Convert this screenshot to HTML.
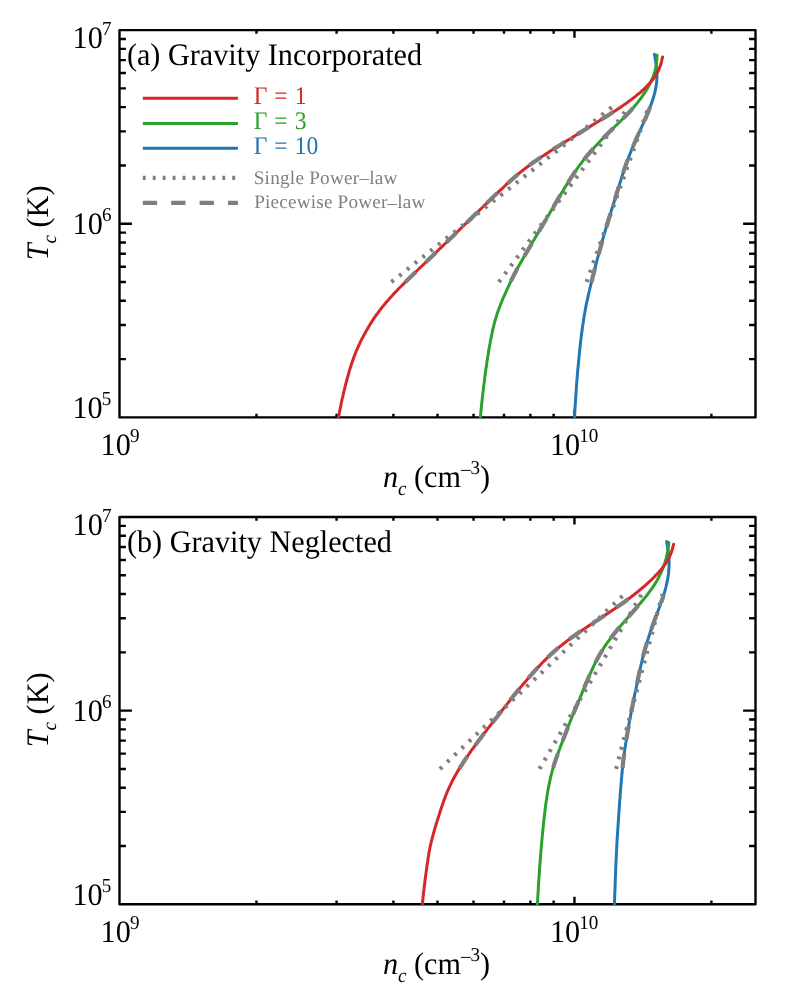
<!DOCTYPE html>
<html><head><meta charset="utf-8"><title>Tc vs nc</title>
<style>html,body{margin:0;padding:0;background:#fff}svg{display:block;will-change:transform}text{text-rendering:geometricPrecision;font-family:"Liberation Serif",serif;fill:#000}.i{font-style:italic}</style></head><body>
<svg width="793" height="994" viewBox="0 0 793 994">
<rect width="793" height="994" fill="#fff"/>
<path d="M256.46,417.4v-3.7M256.46,30.1v3.7M336.57,417.4v-3.7M336.57,30.1v3.7M393.41,417.4v-3.7M393.41,30.1v3.7M437.50,417.4v-3.7M437.50,30.1v3.7M473.52,417.4v-3.7M473.52,30.1v3.7M503.98,417.4v-3.7M503.98,30.1v3.7M530.37,417.4v-3.7M530.37,30.1v3.7M553.64,417.4v-3.7M553.64,30.1v3.7M574.46,417.4v-7.6M574.46,30.1v7.6M711.41,417.4v-3.7M711.41,30.1v3.7M119.5,359.11h6.4M755.5,359.11h-6.4M119.5,325.01h6.4M755.5,325.01h-6.4M119.5,300.81h6.4M755.5,300.81h-6.4M119.5,282.04h6.4M755.5,282.04h-6.4M119.5,266.71h6.4M755.5,266.71h-6.4M119.5,253.75h6.4M755.5,253.75h-6.4M119.5,242.52h6.4M755.5,242.52h-6.4M119.5,232.61h6.4M755.5,232.61h-6.4M119.5,223.75h12.4M755.5,223.75h-12.4M119.5,165.46h6.4M755.5,165.46h-6.4M119.5,131.36h6.4M755.5,131.36h-6.4M119.5,107.16h6.4M755.5,107.16h-6.4M119.5,88.39h6.4M755.5,88.39h-6.4M119.5,73.06h6.4M755.5,73.06h-6.4M119.5,60.10h6.4M755.5,60.10h-6.4M119.5,48.87h6.4M755.5,48.87h-6.4M119.5,38.96h6.4M755.5,38.96h-6.4" stroke="#000" stroke-width="2.4" fill="none"/>
<rect x="119.5" y="30.1" width="636.0" height="387.3" fill="none" stroke="#000" stroke-width="2.4" stroke-linejoin="round"/>
<clipPath id="clipa"><rect x="118.3" y="28.900000000000002" width="638.4" height="389.7"/></clipPath><g clip-path="url(#clipa)">
<path d="M574.5,417.4 L574.6,415.9 L574.7,414.4 L574.8,412.9 L574.9,411.4 L574.9,409.9 L575.0,408.4 L575.1,406.9 L575.2,405.4 L575.3,403.9 L575.4,402.4 L575.5,400.9 L575.6,399.4 L575.7,397.9 L575.8,396.4 L575.9,394.9 L576.0,393.4 L576.1,391.9 L576.2,390.4 L576.3,388.9 L576.4,387.4 L576.5,385.9 L576.6,384.4 L576.7,382.9 L576.8,381.4 L577.0,379.9 L577.1,378.4 L577.2,376.9 L577.3,375.5 L577.5,374.0 L577.6,372.5 L577.7,371.0 L577.8,369.5 L578.0,368.0 L578.1,366.5 L578.3,365.0 L578.4,363.5 L578.5,362.0 L578.7,360.5 L578.8,359.0 L579.0,357.5 L579.1,356.0 L579.3,354.5 L579.4,353.0 L579.6,351.5 L579.7,350.0 L579.9,348.5 L580.0,347.1 L580.2,345.6 L580.4,344.1 L580.5,342.6 L580.7,341.1 L580.9,339.6 L581.1,338.1 L581.2,336.6 L581.4,335.1 L581.6,333.6 L581.8,332.1 L582.0,330.7 L582.2,329.2 L582.4,327.7 L582.6,326.2 L582.8,324.7 L583.1,323.2 L583.3,321.7 L583.5,320.3 L583.7,318.8 L584.0,317.3 L584.2,315.8 L584.5,314.3 L584.8,312.8 L585.0,311.4 L585.3,309.9 L585.6,308.4 L585.8,306.9 L586.1,305.5 L586.4,304.0 L586.7,302.5 L587.0,301.1 L587.4,299.6 L587.7,298.1 L588.0,296.7 L588.3,295.2 L588.6,293.7 L589.0,292.3 L589.3,290.8 L589.7,289.3 L590.0,287.9 L590.4,286.4 L590.7,285.0 L591.1,283.5 L591.5,282.0 L591.8,280.6 L592.2,279.1 L592.6,277.7 L592.9,276.2 L593.3,274.8 L593.7,273.3 L594.1,271.9 L594.4,270.4 L594.8,269.0 L595.2,267.5 L595.6,266.0 L595.9,264.6 L596.3,263.1 L596.7,261.7 L597.1,260.2 L597.4,258.8 L597.8,257.3 L598.2,255.9 L598.6,254.4 L599.0,253.0 L599.4,251.5 L599.8,250.1 L600.2,248.6 L600.6,247.2 L601.0,245.7 L601.4,244.3 L601.8,242.8 L602.2,241.4 L602.6,239.9 L603.0,238.5 L603.4,237.1 L603.8,235.6 L604.2,234.2 L604.7,232.7 L605.1,231.3 L605.5,229.9 L605.9,228.4 L606.4,227.0 L606.8,225.5 L607.2,224.1 L607.7,222.7 L608.1,221.2 L608.6,219.8 L609.0,218.4 L609.4,216.9 L609.9,215.5 L610.3,214.1 L610.8,212.6 L611.2,211.2 L611.6,209.7 L612.1,208.3 L612.5,206.9 L613.0,205.4 L613.4,204.0 L613.9,202.6 L614.3,201.1 L614.8,199.7 L615.2,198.3 L615.6,196.8 L616.1,195.4 L616.5,194.0 L617.0,192.5 L617.4,191.1 L617.9,189.7 L618.3,188.2 L618.7,186.8 L619.2,185.4 L619.6,183.9 L620.1,182.5 L620.5,181.1 L621.0,179.6 L621.4,178.2 L621.9,176.8 L622.3,175.3 L622.8,173.9 L623.3,172.5 L623.7,171.0 L624.2,169.6 L624.7,168.2 L625.2,166.8 L625.7,165.4 L626.2,163.9 L626.7,162.5 L627.2,161.1 L627.7,159.7 L628.2,158.3 L628.8,156.9 L629.3,155.5 L629.9,154.1 L630.4,152.7 L631.0,151.3 L631.5,149.9 L632.1,148.5 L632.7,147.2 L633.3,145.8 L633.9,144.4 L634.5,143.0 L635.1,141.6 L635.7,140.3 L636.3,138.9 L636.9,137.5 L637.5,136.1 L638.1,134.8 L638.7,133.4 L639.3,132.0 L640.0,130.7 L640.6,129.3 L641.2,127.9 L641.8,126.6 L642.4,125.2 L643.1,123.8 L643.7,122.5 L644.3,121.1 L644.9,119.7 L645.5,118.3 L646.1,117.0 L646.7,115.6 L647.2,114.2 L647.8,112.8 L648.4,111.4 L648.9,110.0 L649.5,108.6 L650.0,107.2 L650.6,105.8 L651.1,104.4 L651.6,103.0 L652.1,101.6 L652.6,100.1 L653.0,98.7 L653.5,97.3 L653.9,95.8 L654.3,94.4 L654.7,92.9 L655.0,91.5 L655.4,90.0 L655.7,88.6 L655.9,87.1 L656.2,85.6 L656.4,84.1 L656.6,82.6 L656.7,81.1 L656.8,79.6 L656.9,78.1 L657.0,76.6 L657.0,75.1 L656.9,73.6 L656.9,72.1 L656.8,70.6 L656.6,69.1 L656.5,67.6 L656.3,66.1 L656.1,64.7 L655.9,63.2 L655.7,61.7 L655.5,60.2 L655.2,58.7 L655.0,57.2 L654.7,55.8 L654.4,54.3" fill="none" stroke="#1f77b4" stroke-width="3.0" stroke-linejoin="round" stroke-linecap="round"/>
<path d="M480.3,417.4 L480.5,415.9 L480.6,414.4 L480.8,412.9 L480.9,411.4 L481.1,410.0 L481.2,408.5 L481.4,407.0 L481.5,405.5 L481.7,404.0 L481.8,402.5 L482.0,401.0 L482.2,399.5 L482.3,398.0 L482.5,396.6 L482.7,395.1 L482.8,393.6 L483.0,392.1 L483.2,390.6 L483.4,389.1 L483.5,387.6 L483.7,386.1 L483.9,384.7 L484.1,383.2 L484.3,381.7 L484.5,380.2 L484.6,378.7 L484.8,377.2 L485.0,375.8 L485.2,374.3 L485.4,372.8 L485.6,371.3 L485.8,369.8 L486.0,368.3 L486.3,366.9 L486.5,365.4 L486.7,363.9 L486.9,362.4 L487.1,360.9 L487.4,359.4 L487.6,358.0 L487.8,356.5 L488.0,355.0 L488.3,353.5 L488.5,352.1 L488.8,350.6 L489.0,349.1 L489.3,347.6 L489.5,346.2 L489.8,344.7 L490.1,343.2 L490.3,341.7 L490.6,340.3 L490.9,338.8 L491.2,337.3 L491.5,335.9 L491.8,334.4 L492.1,332.9 L492.4,331.5 L492.7,330.0 L493.1,328.5 L493.4,327.1 L493.8,325.6 L494.1,324.2 L494.5,322.7 L494.9,321.3 L495.3,319.8 L495.7,318.4 L496.2,317.0 L496.6,315.5 L497.1,314.1 L497.5,312.7 L498.0,311.3 L498.5,309.9 L499.0,308.5 L499.6,307.1 L500.1,305.7 L500.6,304.3 L501.2,302.9 L501.8,301.5 L502.3,300.1 L502.9,298.7 L503.5,297.4 L504.1,296.0 L504.7,294.6 L505.3,293.3 L506.0,291.9 L506.6,290.5 L507.2,289.2 L507.8,287.8 L508.4,286.4 L509.1,285.1 L509.7,283.7 L510.3,282.4 L511.0,281.0 L511.6,279.7 L512.3,278.3 L513.0,277.0 L513.6,275.7 L514.3,274.3 L515.0,273.0 L515.7,271.7 L516.4,270.3 L517.1,269.0 L517.8,267.7 L518.5,266.4 L519.3,265.1 L520.0,263.8 L520.7,262.5 L521.5,261.2 L522.2,259.9 L523.0,258.6 L523.7,257.3 L524.5,256.0 L525.2,254.7 L526.0,253.4 L526.7,252.1 L527.5,250.8 L528.3,249.5 L529.0,248.3 L529.8,247.0 L530.6,245.7 L531.3,244.4 L532.1,243.1 L532.8,241.8 L533.6,240.5 L534.4,239.2 L535.1,237.9 L535.9,236.6 L536.6,235.4 L537.4,234.1 L538.2,232.8 L538.9,231.5 L539.7,230.2 L540.4,228.9 L541.2,227.6 L542.0,226.3 L542.7,225.0 L543.5,223.7 L544.2,222.5 L545.0,221.2 L545.8,219.9 L546.5,218.6 L547.3,217.3 L548.0,216.0 L548.8,214.7 L549.6,213.4 L550.3,212.1 L551.1,210.8 L551.8,209.6 L552.6,208.3 L553.4,207.0 L554.1,205.7 L554.9,204.4 L555.6,203.1 L556.4,201.8 L557.1,200.5 L557.9,199.2 L558.7,197.9 L559.4,196.6 L560.2,195.4 L560.9,194.1 L561.7,192.8 L562.5,191.5 L563.3,190.2 L564.0,188.9 L564.8,187.7 L565.6,186.4 L566.4,185.1 L567.2,183.8 L568.0,182.6 L568.8,181.3 L569.6,180.0 L570.4,178.8 L571.2,177.5 L572.0,176.3 L572.8,175.0 L573.7,173.8 L574.5,172.5 L575.3,171.3 L576.2,170.1 L577.1,168.8 L577.9,167.6 L578.8,166.4 L579.7,165.2 L580.6,164.0 L581.5,162.8 L582.4,161.6 L583.3,160.4 L584.2,159.3 L585.2,158.1 L586.1,156.9 L587.1,155.8 L588.0,154.6 L589.0,153.5 L590.0,152.3 L590.9,151.2 L591.9,150.1 L592.9,149.0 L593.9,147.9 L594.9,146.7 L596.0,145.6 L597.0,144.6 L598.0,143.5 L599.0,142.4 L600.1,141.3 L601.1,140.2 L602.2,139.2 L603.2,138.1 L604.3,137.0 L605.3,136.0 L606.4,134.9 L607.5,133.9 L608.5,132.8 L609.6,131.8 L610.7,130.7 L611.7,129.7 L612.8,128.6 L613.9,127.6 L614.9,126.5 L616.0,125.5 L617.1,124.4 L618.2,123.4 L619.2,122.3 L620.3,121.3 L621.4,120.2 L622.4,119.2 L623.5,118.1 L624.5,117.1 L625.6,116.0 L626.6,114.9 L627.7,113.8 L628.7,112.7 L629.7,111.7 L630.7,110.6 L631.7,109.4 L632.7,108.3 L633.7,107.2 L634.7,106.1 L635.6,104.9 L636.6,103.8 L637.5,102.6 L638.5,101.4 L639.4,100.2 L640.3,99.0 L641.2,97.8 L642.0,96.6 L642.9,95.4 L643.7,94.2 L644.6,92.9 L645.4,91.7 L646.2,90.4 L646.9,89.1 L647.7,87.8 L648.4,86.5 L649.2,85.2 L649.9,83.9 L650.5,82.5 L651.2,81.2 L651.8,79.8 L652.4,78.4 L653.0,77.1 L653.5,75.7 L654.0,74.2 L654.4,72.8 L654.9,71.4 L655.2,69.9 L655.6,68.5 L655.9,67.0 L656.1,65.5 L656.4,64.1 L656.5,62.6 L656.7,61.1 L656.8,59.6 L656.9,58.1 L657.0,56.6 L657.0,55.1" fill="none" stroke="#2ca02c" stroke-width="3.0" stroke-linejoin="round" stroke-linecap="round"/>
<path d="M338.4,417.4 L338.7,415.9 L339.0,414.5 L339.3,413.0 L339.6,411.5 L339.9,410.1 L340.2,408.6 L340.5,407.1 L340.8,405.7 L341.1,404.2 L341.4,402.7 L341.7,401.3 L342.0,399.8 L342.3,398.3 L342.7,396.9 L343.0,395.4 L343.3,394.0 L343.7,392.5 L344.0,391.0 L344.4,389.6 L344.7,388.1 L345.1,386.7 L345.5,385.2 L345.8,383.8 L346.2,382.3 L346.6,380.9 L347.0,379.4 L347.4,378.0 L347.8,376.5 L348.2,375.1 L348.6,373.7 L349.0,372.2 L349.4,370.8 L349.8,369.4 L350.3,367.9 L350.7,366.5 L351.2,365.1 L351.6,363.6 L352.1,362.2 L352.6,360.8 L353.1,359.4 L353.6,358.0 L354.1,356.6 L354.6,355.2 L355.2,353.8 L355.7,352.4 L356.3,351.0 L356.9,349.6 L357.5,348.3 L358.1,346.9 L358.7,345.5 L359.4,344.2 L360.0,342.8 L360.7,341.5 L361.3,340.1 L362.0,338.8 L362.7,337.5 L363.4,336.1 L364.1,334.8 L364.8,333.5 L365.5,332.2 L366.3,330.9 L367.0,329.6 L367.8,328.3 L368.5,327.0 L369.3,325.7 L370.1,324.4 L370.9,323.2 L371.7,321.9 L372.5,320.6 L373.3,319.4 L374.1,318.2 L375.0,316.9 L375.8,315.7 L376.7,314.5 L377.6,313.3 L378.5,312.0 L379.4,310.8 L380.3,309.7 L381.2,308.5 L382.1,307.3 L383.1,306.1 L384.0,305.0 L385.0,303.8 L385.9,302.7 L386.9,301.5 L387.9,300.4 L388.9,299.3 L389.9,298.1 L390.9,297.0 L391.9,295.9 L392.9,294.8 L393.9,293.7 L394.9,292.6 L396.0,291.6 L397.0,290.5 L398.0,289.4 L399.1,288.3 L400.1,287.3 L401.2,286.2 L402.3,285.1 L403.3,284.1 L404.4,283.0 L405.4,282.0 L406.5,280.9 L407.6,279.9 L408.6,278.8 L409.7,277.8 L410.8,276.7 L411.9,275.7 L412.9,274.7 L414.0,273.6 L415.1,272.6 L416.2,271.5 L417.2,270.5 L418.3,269.5 L419.4,268.4 L420.5,267.4 L421.6,266.3 L422.6,265.3 L423.7,264.3 L424.8,263.2 L425.9,262.2 L427.0,261.2 L428.0,260.1 L429.1,259.1 L430.2,258.0 L431.3,257.0 L432.4,256.0 L433.4,254.9 L434.5,253.9 L435.6,252.8 L436.7,251.8 L437.7,250.8 L438.8,249.7 L439.9,248.7 L441.0,247.7 L442.1,246.6 L443.1,245.6 L444.2,244.5 L445.3,243.5 L446.4,242.5 L447.4,241.4 L448.5,240.4 L449.6,239.3 L450.7,238.3 L451.8,237.2 L452.8,236.2 L453.9,235.2 L455.0,234.1 L456.0,233.1 L457.1,232.0 L458.2,231.0 L459.3,229.9 L460.3,228.9 L461.4,227.9 L462.5,226.8 L463.6,225.8 L464.6,224.7 L465.7,223.7 L466.8,222.6 L467.9,221.6 L468.9,220.5 L470.0,219.5 L471.1,218.5 L472.1,217.4 L473.2,216.4 L474.3,215.3 L475.4,214.3 L476.4,213.2 L477.5,212.2 L478.6,211.1 L479.7,210.1 L480.7,209.0 L481.8,208.0 L482.9,207.0 L483.9,205.9 L485.0,204.9 L486.1,203.8 L487.2,202.8 L488.2,201.7 L489.3,200.7 L490.4,199.7 L491.5,198.6 L492.6,197.6 L493.6,196.5 L494.7,195.5 L495.8,194.5 L496.9,193.4 L498.0,192.4 L499.0,191.4 L500.1,190.3 L501.2,189.3 L502.3,188.3 L503.4,187.3 L504.5,186.3 L505.6,185.2 L506.7,184.2 L507.8,183.2 L508.9,182.2 L510.0,181.2 L511.2,180.2 L512.3,179.2 L513.4,178.2 L514.5,177.2 L515.7,176.3 L516.8,175.3 L517.9,174.3 L519.1,173.4 L520.2,172.4 L521.4,171.5 L522.6,170.5 L523.7,169.6 L524.9,168.7 L526.1,167.8 L527.3,166.9 L528.5,166.0 L529.7,165.1 L530.9,164.2 L532.1,163.3 L533.3,162.4 L534.6,161.6 L535.8,160.7 L537.0,159.9 L538.3,159.0 L539.5,158.2 L540.8,157.4 L542.0,156.5 L543.3,155.7 L544.5,154.9 L545.8,154.1 L547.0,153.3 L548.3,152.4 L549.5,151.6 L550.8,150.8 L552.1,150.0 L553.3,149.2 L554.6,148.4 L555.9,147.6 L557.1,146.8 L558.4,146.1 L559.7,145.3 L561.0,144.5 L562.2,143.7 L563.5,142.9 L564.8,142.1 L566.0,141.3 L567.3,140.5 L568.6,139.7 L569.9,139.0 L571.1,138.2 L572.4,137.4 L573.7,136.6 L575.0,135.8 L576.2,135.0 L577.5,134.2 L578.8,133.5 L580.1,132.7 L581.3,131.9 L582.6,131.1 L583.9,130.3 L585.2,129.5 L586.4,128.7 L587.7,128.0 L589.0,127.2 L590.3,126.4 L591.5,125.6 L592.8,124.8 L594.1,124.0 L595.4,123.2 L596.6,122.4 L597.9,121.7 L599.2,120.9 L600.4,120.1 L601.7,119.3 L603.0,118.5 L604.3,117.7 L605.5,116.9 L606.8,116.1 L608.1,115.3 L609.3,114.5 L610.6,113.7 L611.9,112.9 L613.1,112.1 L614.4,111.3 L615.6,110.5 L616.9,109.7 L618.1,108.8 L619.4,108.0 L620.6,107.2 L621.9,106.3 L623.1,105.5 L624.3,104.6 L625.6,103.8 L626.8,102.9 L628.0,102.0 L629.2,101.1 L630.4,100.3 L631.6,99.4 L632.8,98.4 L634.0,97.5 L635.2,96.6 L636.3,95.7 L637.5,94.7 L638.6,93.8 L639.8,92.8 L640.9,91.8 L642.0,90.8 L643.1,89.8 L644.2,88.8 L645.3,87.7 L646.4,86.7 L647.4,85.6 L648.4,84.5 L649.4,83.4 L650.4,82.3 L651.4,81.1 L652.3,80.0 L653.3,78.8 L654.1,77.6 L655.0,76.4 L655.8,75.1 L656.6,73.8 L657.3,72.5 L658.0,71.2 L658.7,69.9 L659.3,68.5 L659.8,67.1 L660.3,65.7 L660.8,64.3 L661.2,62.8 L661.6,61.4 L661.9,59.9 L662.2,58.4 L662.6,57.0" fill="none" stroke="#d62728" stroke-width="3.0" stroke-linejoin="round" stroke-linecap="round"/>
<path d="M391.4,282.0 L611.8,107.2" fill="none" stroke="#7f7f7f" stroke-width="4.2" stroke-dasharray="2.9 7.04"/>
<path d="M498.9,282.0 L628.5,107.2" fill="none" stroke="#7f7f7f" stroke-width="4.2" stroke-dasharray="2.9 7.04"/>
<path d="M586.6,282.0 L648.6,107.2" fill="none" stroke="#7f7f7f" stroke-width="4.2" stroke-dasharray="2.9 7.04"/>
<path d="M405.4,282.0 L406.5,280.9 L407.6,279.9 L408.6,278.8 L409.7,277.8 L410.8,276.7 L411.9,275.7 L412.9,274.7 L414.0,273.6 L415.1,272.6 L416.2,271.5 L417.2,270.5 L418.3,269.5 L419.4,268.4 L420.5,267.4 L421.6,266.3 L422.6,265.3 L423.7,264.3 L424.8,263.2 L425.9,262.2 L427.0,261.2 L428.0,260.1 L429.1,259.1 L430.2,258.0 L431.3,257.0 L432.4,256.0 L433.4,254.9 L434.5,253.9 L435.6,252.8 L436.7,251.8 L437.7,250.8 L438.8,249.7 L439.9,248.7 L441.0,247.7 L442.1,246.6 L443.1,245.6 L444.2,244.5 L445.3,243.5 L446.4,242.5 L447.4,241.4 L448.5,240.4 L449.6,239.3 L450.7,238.3 L451.8,237.2 L452.8,236.2 L453.9,235.2 L455.0,234.1 L456.0,233.1 L457.1,232.0 L458.2,231.0 L459.3,229.9 L460.3,228.9 L461.4,227.9 L462.5,226.8 L463.6,225.8 L464.6,224.7 L465.7,223.7 L466.8,222.6 L467.9,221.6 L468.9,220.5 L470.0,219.5 L471.1,218.5 L472.1,217.4 L473.2,216.4 L474.3,215.3 L475.4,214.3 L476.4,213.2 L477.5,212.2 L478.6,211.1 L479.7,210.1 L480.7,209.0 L481.8,208.0 L482.9,207.0 L483.9,205.9 L485.0,204.9 L486.1,203.8 L487.2,202.8 L488.2,201.7 L489.3,200.7 L490.4,199.7 L491.5,198.6 L492.6,197.6 L493.6,196.5 L494.7,195.5 L495.8,194.5 L496.9,193.4 L498.0,192.4 L499.0,191.4 L500.1,190.3 L501.2,189.3 L502.3,188.3 L503.4,187.3 L504.5,186.3 L505.6,185.2 L506.7,184.2 L507.8,183.2 L508.9,182.2 L510.0,181.2 L511.2,180.2 L512.3,179.2 L513.4,178.2 L514.5,177.2 L515.7,176.3 L516.8,175.3 L517.9,174.3 L519.1,173.4 L520.2,172.4 L521.4,171.5 L522.6,170.5 L523.7,169.6 L524.9,168.7 L526.1,167.8 L527.3,166.9 L528.5,166.0 L529.7,165.1 L530.9,164.2 L532.1,163.3 L533.3,162.4 L534.6,161.6 L535.8,160.7 L537.0,159.9 L538.3,159.0 L539.5,158.2 L540.8,157.4 L542.0,156.5 L543.3,155.7 L544.5,154.9 L545.8,154.1 L547.0,153.3 L548.3,152.4 L549.5,151.6 L550.8,150.8 L552.1,150.0 L553.3,149.2 L554.6,148.4 L555.9,147.6 L557.1,146.8 L558.4,146.1 L559.7,145.3 L561.0,144.5 L562.2,143.7 L563.5,142.9 L564.8,142.1 L566.0,141.3 L567.3,140.5 L568.6,139.7 L569.9,139.0 L571.1,138.2 L572.4,137.4 L573.7,136.6 L575.0,135.8 L576.2,135.0 L577.5,134.2 L578.8,133.5 L580.1,132.7 L581.3,131.9 L582.6,131.1 L583.9,130.3 L585.2,129.5 L586.4,128.7 L587.7,128.0 L589.0,127.2 L590.3,126.4 L591.5,125.6 L592.8,124.8 L594.1,124.0 L595.4,123.2 L596.6,122.4 L597.9,121.7 L599.2,120.9 L600.4,120.1 L601.7,119.3 L603.0,118.5 L604.3,117.7 L605.5,116.9 L606.8,116.1 L608.1,115.3 L609.3,114.5 L610.6,113.7 L611.9,112.9 L613.1,112.1 L614.4,111.3 L615.6,110.5 L616.9,109.7 L618.1,108.8 L619.4,108.0 L620.6,107.2" fill="none" stroke="#7f7f7f" stroke-width="4.2" stroke-dasharray="14.3 14.1" stroke-linejoin="round"/>
<path d="M511.0,281.0 L511.6,279.7 L512.3,278.3 L513.0,277.0 L513.6,275.7 L514.3,274.3 L515.0,273.0 L515.7,271.7 L516.4,270.3 L517.1,269.0 L517.8,267.7 L518.5,266.4 L519.3,265.1 L520.0,263.8 L520.7,262.5 L521.5,261.2 L522.2,259.9 L523.0,258.6 L523.7,257.3 L524.5,256.0 L525.2,254.7 L526.0,253.4 L526.7,252.1 L527.5,250.8 L528.3,249.5 L529.0,248.3 L529.8,247.0 L530.6,245.7 L531.3,244.4 L532.1,243.1 L532.8,241.8 L533.6,240.5 L534.4,239.2 L535.1,237.9 L535.9,236.6 L536.6,235.4 L537.4,234.1 L538.2,232.8 L538.9,231.5 L539.7,230.2 L540.4,228.9 L541.2,227.6 L542.0,226.3 L542.7,225.0 L543.5,223.7 L544.2,222.5 L545.0,221.2 L545.8,219.9 L546.5,218.6 L547.3,217.3 L548.0,216.0 L548.8,214.7 L549.6,213.4 L550.3,212.1 L551.1,210.8 L551.8,209.6 L552.6,208.3 L553.4,207.0 L554.1,205.7 L554.9,204.4 L555.6,203.1 L556.4,201.8 L557.1,200.5 L557.9,199.2 L558.7,197.9 L559.4,196.6 L560.2,195.4 L560.9,194.1 L561.7,192.8 L562.5,191.5 L563.3,190.2 L564.0,188.9 L564.8,187.7 L565.6,186.4 L566.4,185.1 L567.2,183.8 L568.0,182.6 L568.8,181.3 L569.6,180.0 L570.4,178.8 L571.2,177.5 L572.0,176.3 L572.8,175.0 L573.7,173.8 L574.5,172.5 L575.3,171.3 L576.2,170.1 L577.1,168.8 L577.9,167.6 L578.8,166.4 L579.7,165.2 L580.6,164.0 L581.5,162.8 L582.4,161.6 L583.3,160.4 L584.2,159.3 L585.2,158.1 L586.1,156.9 L587.1,155.8 L588.0,154.6 L589.0,153.5 L590.0,152.3 L590.9,151.2 L591.9,150.1 L592.9,149.0 L593.9,147.9 L594.9,146.7 L596.0,145.6 L597.0,144.6 L598.0,143.5 L599.0,142.4 L600.1,141.3 L601.1,140.2 L602.2,139.2 L603.2,138.1 L604.3,137.0 L605.3,136.0 L606.4,134.9 L607.5,133.9 L608.5,132.8 L609.6,131.8 L610.7,130.7 L611.7,129.7 L612.8,128.6 L613.9,127.6 L614.9,126.5 L616.0,125.5 L617.1,124.4 L618.2,123.4 L619.2,122.3 L620.3,121.3 L621.4,120.2 L622.4,119.2 L623.5,118.1 L624.5,117.1 L625.6,116.0 L626.6,114.9 L627.7,113.8 L628.7,112.7 L629.7,111.7 L630.7,110.6 L631.7,109.4 L632.7,108.3 L633.7,107.2" fill="none" stroke="#7f7f7f" stroke-width="4.2" stroke-dasharray="14.3 14.1" stroke-linejoin="round"/>
<path d="M591.5,282.0 L591.8,280.6 L592.2,279.1 L592.6,277.7 L592.9,276.2 L593.3,274.8 L593.7,273.3 L594.1,271.9 L594.4,270.4 L594.8,269.0 L595.2,267.5 L595.6,266.0 L595.9,264.6 L596.3,263.1 L596.7,261.7 L597.1,260.2 L597.4,258.8 L597.8,257.3 L598.2,255.9 L598.6,254.4 L599.0,253.0 L599.4,251.5 L599.8,250.1 L600.2,248.6 L600.6,247.2 L601.0,245.7 L601.4,244.3 L601.8,242.8 L602.2,241.4 L602.6,239.9 L603.0,238.5 L603.4,237.1 L603.8,235.6 L604.2,234.2 L604.7,232.7 L605.1,231.3 L605.5,229.9 L605.9,228.4 L606.4,227.0 L606.8,225.5 L607.2,224.1 L607.7,222.7 L608.1,221.2 L608.6,219.8 L609.0,218.4 L609.4,216.9 L609.9,215.5 L610.3,214.1 L610.8,212.6 L611.2,211.2 L611.6,209.7 L612.1,208.3 L612.5,206.9 L613.0,205.4 L613.4,204.0 L613.9,202.6 L614.3,201.1 L614.8,199.7 L615.2,198.3 L615.6,196.8 L616.1,195.4 L616.5,194.0 L617.0,192.5 L617.4,191.1 L617.9,189.7 L618.3,188.2 L618.7,186.8 L619.2,185.4 L619.6,183.9 L620.1,182.5 L620.5,181.1 L621.0,179.6 L621.4,178.2 L621.9,176.8 L622.3,175.3 L622.8,173.9 L623.3,172.5 L623.7,171.0 L624.2,169.6 L624.7,168.2 L625.2,166.8 L625.7,165.4 L626.2,163.9 L626.7,162.5 L627.2,161.1 L627.7,159.7 L628.2,158.3 L628.8,156.9 L629.3,155.5 L629.9,154.1 L630.4,152.7 L631.0,151.3 L631.5,149.9 L632.1,148.5 L632.7,147.2 L633.3,145.8 L633.9,144.4 L634.5,143.0 L635.1,141.6 L635.7,140.3 L636.3,138.9 L636.9,137.5 L637.5,136.1 L638.1,134.8 L638.7,133.4 L639.3,132.0 L640.0,130.7 L640.6,129.3 L641.2,127.9 L641.8,126.6 L642.4,125.2 L643.1,123.8 L643.7,122.5 L644.3,121.1 L644.9,119.7 L645.5,118.3 L646.1,117.0 L646.7,115.6 L647.2,114.2 L647.8,112.8 L648.4,111.4 L648.9,110.0 L649.5,108.6 L650.0,107.2" fill="none" stroke="#7f7f7f" stroke-width="4.2" stroke-dasharray="14.3 14.1" stroke-linejoin="round"/>
</g>
<text transform="translate(72.60,48.00) scale(0.965,1)" font-size="31.3">10<tspan dx="-0.9" dy="-13.2" font-size="19.8">7</tspan></text>
<text transform="translate(72.60,234.40) scale(0.965,1)" font-size="31.3">10<tspan dx="-0.9" dy="-13.2" font-size="19.8">6</tspan></text>
<text transform="translate(72.50,418.00) scale(0.965,1)" font-size="31.3">10<tspan dx="-0.9" dy="-13.2" font-size="19.8">5</tspan></text>
<text transform="translate(100.60,455.40) scale(0.965,1)" font-size="31.3">10<tspan dx="-0.9" dy="-13.2" font-size="19.8">9</tspan></text>
<text transform="translate(550.00,455.40) scale(0.965,1)" font-size="31.3">10<tspan dx="-0.9" dy="-13.2" font-size="19.8">10</tspan></text>
<text transform="translate(382.90,487.30) scale(0.965,1)" font-size="31.3"><tspan class="i">n</tspan><tspan class="i" dy="7.3" font-size="19.8">c</tspan><tspan dy="-7.3"> (cm</tspan><tspan dy="-12.299999999999999" font-size="19.8">–</tspan><tspan dy="-0.9" font-size="19.8">3</tspan><tspan dy="13.2">)</tspan></text>
<text transform="translate(48.3,260.30) rotate(-90) scale(0.965,1)" font-size="31.3"><tspan class="i">T</tspan><tspan class="i" dy="7.3" font-size="19.8">c</tspan><tspan dy="-7.3"> (K)</tspan></text>
<text transform="translate(126.90,64.90) scale(0.965,1)" font-size="31.3">(a) Gravity Incorporated</text>
<path d="M256.46,904.3v-3.7M256.46,517.0v3.7M336.57,904.3v-3.7M336.57,517.0v3.7M393.41,904.3v-3.7M393.41,517.0v3.7M437.50,904.3v-3.7M437.50,517.0v3.7M473.52,904.3v-3.7M473.52,517.0v3.7M503.98,904.3v-3.7M503.98,517.0v3.7M530.37,904.3v-3.7M530.37,517.0v3.7M553.64,904.3v-3.7M553.64,517.0v3.7M574.46,904.3v-7.6M574.46,517.0v7.6M711.41,904.3v-3.7M711.41,517.0v3.7M119.5,846.01h6.4M755.5,846.01h-6.4M119.5,811.91h6.4M755.5,811.91h-6.4M119.5,787.71h6.4M755.5,787.71h-6.4M119.5,768.94h6.4M755.5,768.94h-6.4M119.5,753.61h6.4M755.5,753.61h-6.4M119.5,740.65h6.4M755.5,740.65h-6.4M119.5,729.42h6.4M755.5,729.42h-6.4M119.5,719.51h6.4M755.5,719.51h-6.4M119.5,710.65h12.4M755.5,710.65h-12.4M119.5,652.36h6.4M755.5,652.36h-6.4M119.5,618.26h6.4M755.5,618.26h-6.4M119.5,594.06h6.4M755.5,594.06h-6.4M119.5,575.29h6.4M755.5,575.29h-6.4M119.5,559.96h6.4M755.5,559.96h-6.4M119.5,547.00h6.4M755.5,547.00h-6.4M119.5,535.77h6.4M755.5,535.77h-6.4M119.5,525.86h6.4M755.5,525.86h-6.4" stroke="#000" stroke-width="2.4" fill="none"/>
<rect x="119.5" y="517.0" width="636.0" height="387.3" fill="none" stroke="#000" stroke-width="2.4" stroke-linejoin="round"/>
<clipPath id="clipb"><rect x="118.3" y="515.8" width="638.4" height="389.7"/></clipPath><g clip-path="url(#clipb)">
<path d="M614.4,904.3 L614.5,902.8 L614.5,901.3 L614.6,899.8 L614.6,898.3 L614.7,896.8 L614.7,895.3 L614.8,893.8 L614.8,892.3 L614.9,890.8 L615.0,889.3 L615.0,887.8 L615.1,886.3 L615.1,884.8 L615.2,883.3 L615.2,881.8 L615.3,880.3 L615.3,878.8 L615.4,877.3 L615.4,875.8 L615.5,874.3 L615.6,872.8 L615.6,871.3 L615.7,869.8 L615.7,868.3 L615.8,866.8 L615.9,865.3 L615.9,863.8 L616.0,862.3 L616.1,860.8 L616.1,859.3 L616.2,857.8 L616.3,856.3 L616.3,854.8 L616.4,853.3 L616.5,851.8 L616.6,850.3 L616.6,848.8 L616.7,847.3 L616.8,845.8 L616.9,844.3 L617.0,842.8 L617.0,841.3 L617.1,839.8 L617.2,838.4 L617.3,836.9 L617.4,835.4 L617.5,833.9 L617.6,832.4 L617.7,830.9 L617.8,829.4 L617.9,827.9 L618.0,826.4 L618.1,824.9 L618.2,823.4 L618.3,821.9 L618.4,820.4 L618.5,818.9 L618.6,817.4 L618.7,815.9 L618.8,814.4 L618.9,812.9 L619.0,811.4 L619.1,809.9 L619.2,808.4 L619.3,806.9 L619.4,805.4 L619.5,803.9 L619.6,802.4 L619.7,800.9 L619.8,799.4 L620.0,797.9 L620.1,796.4 L620.2,794.9 L620.3,793.5 L620.4,792.0 L620.5,790.5 L620.7,789.0 L620.8,787.5 L620.9,786.0 L621.0,784.5 L621.2,783.0 L621.3,781.5 L621.4,780.0 L621.5,778.5 L621.7,777.0 L621.8,775.5 L621.9,774.0 L622.1,772.5 L622.2,771.0 L622.4,769.5 L622.5,768.0 L622.7,766.6 L622.8,765.1 L623.0,763.6 L623.2,762.1 L623.3,760.6 L623.5,759.1 L623.7,757.6 L623.9,756.1 L624.1,754.6 L624.3,753.1 L624.5,751.7 L624.7,750.2 L624.9,748.7 L625.1,747.2 L625.4,745.7 L625.6,744.2 L625.8,742.8 L626.1,741.3 L626.3,739.8 L626.5,738.3 L626.8,736.8 L627.0,735.4 L627.3,733.9 L627.5,732.4 L627.8,730.9 L628.0,729.4 L628.3,728.0 L628.6,726.5 L628.8,725.0 L629.1,723.5 L629.4,722.1 L629.6,720.6 L629.9,719.1 L630.2,717.6 L630.5,716.2 L630.7,714.7 L631.0,713.2 L631.3,711.7 L631.6,710.3 L631.9,708.8 L632.2,707.3 L632.5,705.8 L632.8,704.4 L633.1,702.9 L633.4,701.4 L633.6,700.0 L633.9,698.5 L634.2,697.0 L634.5,695.6 L634.8,694.1 L635.1,692.6 L635.5,691.1 L635.8,689.7 L636.1,688.2 L636.4,686.7 L636.7,685.3 L637.0,683.8 L637.3,682.3 L637.6,680.9 L637.9,679.4 L638.2,677.9 L638.5,676.5 L638.8,675.0 L639.1,673.5 L639.4,672.1 L639.8,670.6 L640.1,669.1 L640.4,667.7 L640.7,666.2 L641.1,664.7 L641.4,663.3 L641.7,661.8 L642.1,660.3 L642.4,658.9 L642.8,657.4 L643.2,656.0 L643.5,654.5 L643.9,653.1 L644.3,651.6 L644.7,650.2 L645.1,648.7 L645.5,647.3 L646.0,645.9 L646.4,644.4 L646.8,643.0 L647.3,641.5 L647.7,640.1 L648.2,638.7 L648.6,637.3 L649.1,635.8 L649.6,634.4 L650.0,633.0 L650.5,631.6 L651.0,630.1 L651.5,628.7 L652.0,627.3 L652.5,625.9 L653.0,624.5 L653.5,623.1 L654.0,621.7 L654.5,620.3 L655.1,618.8 L655.6,617.4 L656.1,616.0 L656.6,614.6 L657.2,613.2 L657.7,611.8 L658.2,610.4 L658.7,609.0 L659.3,607.6 L659.8,606.2 L660.3,604.8 L660.8,603.4 L661.3,602.0 L661.8,600.5 L662.3,599.1 L662.8,597.7 L663.2,596.3 L663.7,594.8 L664.1,593.4 L664.6,592.0 L665.0,590.5 L665.4,589.1 L665.8,587.6 L666.1,586.2 L666.5,584.7 L666.8,583.3 L667.1,581.8 L667.4,580.3 L667.7,578.8 L667.9,577.4 L668.2,575.9 L668.4,574.4 L668.6,572.9 L668.7,571.4 L668.8,569.9 L668.9,568.4 L669.0,566.9 L669.1,565.4 L669.1,563.9 L669.1,562.4 L669.0,560.9 L669.0,559.4 L668.9,557.9 L668.8,556.4 L668.6,554.9 L668.5,553.5 L668.3,552.0 L668.1,550.5 L667.9,549.0 L667.6,547.5 L667.4,546.0 L667.2,544.5 L666.9,543.1 L666.7,541.6" fill="none" stroke="#1f77b4" stroke-width="3.0" stroke-linejoin="round" stroke-linecap="round"/>
<path d="M537.4,904.3 L537.5,902.8 L537.6,901.3 L537.7,899.8 L537.7,898.3 L537.8,896.8 L537.9,895.3 L538.0,893.8 L538.1,892.3 L538.2,890.8 L538.3,889.3 L538.3,887.8 L538.4,886.3 L538.5,884.8 L538.6,883.4 L538.7,881.9 L538.8,880.4 L538.9,878.9 L539.0,877.4 L539.1,875.9 L539.2,874.4 L539.3,872.9 L539.4,871.4 L539.5,869.9 L539.6,868.4 L539.7,866.9 L539.8,865.4 L539.9,863.9 L540.1,862.4 L540.2,860.9 L540.3,859.4 L540.4,857.9 L540.5,856.4 L540.6,854.9 L540.8,853.4 L540.9,852.0 L541.0,850.5 L541.1,849.0 L541.3,847.5 L541.4,846.0 L541.5,844.5 L541.7,843.0 L541.8,841.5 L541.9,840.0 L542.1,838.5 L542.2,837.0 L542.3,835.5 L542.5,834.0 L542.6,832.5 L542.8,831.1 L542.9,829.6 L543.1,828.1 L543.2,826.6 L543.4,825.1 L543.5,823.6 L543.7,822.1 L543.9,820.6 L544.0,819.1 L544.2,817.6 L544.3,816.1 L544.5,814.7 L544.7,813.2 L544.9,811.7 L545.0,810.2 L545.2,808.7 L545.4,807.2 L545.6,805.7 L545.8,804.2 L546.0,802.8 L546.2,801.3 L546.5,799.8 L546.7,798.3 L546.9,796.8 L547.1,795.4 L547.4,793.9 L547.6,792.4 L547.9,790.9 L548.1,789.4 L548.4,788.0 L548.7,786.5 L549.0,785.0 L549.3,783.6 L549.6,782.1 L549.9,780.6 L550.2,779.2 L550.5,777.7 L550.9,776.2 L551.2,774.8 L551.6,773.3 L552.0,771.9 L552.4,770.4 L552.8,769.0 L553.2,767.5 L553.7,766.1 L554.1,764.7 L554.5,763.3 L555.0,761.8 L555.5,760.4 L556.0,759.0 L556.5,757.6 L557.0,756.2 L557.5,754.8 L558.0,753.3 L558.5,751.9 L559.0,750.5 L559.6,749.1 L560.1,747.7 L560.6,746.3 L561.2,744.9 L561.7,743.5 L562.2,742.1 L562.8,740.7 L563.3,739.3 L563.8,737.9 L564.4,736.5 L564.9,735.1 L565.5,733.7 L566.0,732.3 L566.5,730.9 L567.1,729.5 L567.6,728.1 L568.1,726.7 L568.7,725.3 L569.2,723.9 L569.8,722.5 L570.3,721.1 L570.9,719.8 L571.4,718.4 L572.0,717.0 L572.6,715.6 L573.1,714.2 L573.7,712.8 L574.3,711.4 L574.8,710.0 L575.4,708.7 L576.0,707.3 L576.6,705.9 L577.2,704.5 L577.7,703.1 L578.3,701.8 L578.9,700.4 L579.5,699.0 L580.1,697.6 L580.7,696.2 L581.3,694.9 L581.8,693.5 L582.4,692.1 L583.0,690.7 L583.6,689.3 L584.2,687.9 L584.7,686.6 L585.3,685.2 L585.9,683.8 L586.5,682.4 L587.1,681.0 L587.6,679.6 L588.2,678.3 L588.8,676.9 L589.4,675.5 L590.0,674.1 L590.6,672.8 L591.2,671.4 L591.8,670.0 L592.5,668.7 L593.1,667.3 L593.8,666.0 L594.4,664.6 L595.1,663.3 L595.7,661.9 L596.4,660.6 L597.1,659.3 L597.8,658.0 L598.6,656.6 L599.3,655.3 L600.0,654.0 L600.8,652.7 L601.6,651.5 L602.4,650.2 L603.2,648.9 L604.0,647.6 L604.8,646.4 L605.6,645.2 L606.5,643.9 L607.3,642.7 L608.2,641.5 L609.1,640.3 L610.0,639.0 L610.9,637.8 L611.8,636.7 L612.7,635.5 L613.6,634.3 L614.6,633.1 L615.5,632.0 L616.5,630.8 L617.4,629.6 L618.4,628.5 L619.3,627.4 L620.3,626.2 L621.3,625.1 L622.3,623.9 L623.3,622.8 L624.2,621.7 L625.2,620.6 L626.2,619.4 L627.2,618.3 L628.2,617.2 L629.2,616.0 L630.2,614.9 L631.2,613.8 L632.2,612.7 L633.1,611.5 L634.1,610.4 L635.1,609.3 L636.1,608.2 L637.1,607.0 L638.1,605.9 L639.0,604.8 L640.0,603.6 L641.0,602.5 L641.9,601.3 L642.9,600.2 L643.9,599.0 L644.8,597.9 L645.7,596.7 L646.7,595.5 L647.6,594.3 L648.5,593.1 L649.4,591.9 L650.3,590.7 L651.2,589.5 L652.0,588.3 L652.9,587.1 L653.7,585.8 L654.5,584.6 L655.3,583.3 L656.1,582.0 L656.9,580.7 L657.6,579.4 L658.3,578.1 L659.0,576.8 L659.7,575.4 L660.4,574.1 L661.0,572.7 L661.6,571.4 L662.2,570.0 L662.8,568.6 L663.3,567.2 L663.8,565.8 L664.3,564.4 L664.8,562.9 L665.2,561.5 L665.7,560.1 L666.1,558.6 L666.4,557.2 L666.8,555.7 L667.1,554.3 L667.4,552.8 L667.7,551.3 L667.9,549.8 L668.1,548.4 L668.3,546.9 L668.5,545.4 L668.7,543.9 L668.8,542.4" fill="none" stroke="#2ca02c" stroke-width="3.0" stroke-linejoin="round" stroke-linecap="round"/>
<path d="M422.3,904.3 L422.5,902.8 L422.6,901.3 L422.8,899.8 L423.0,898.3 L423.1,896.9 L423.3,895.4 L423.4,893.9 L423.6,892.4 L423.8,890.9 L424.0,889.4 L424.1,887.9 L424.3,886.5 L424.5,885.0 L424.7,883.5 L424.9,882.0 L425.0,880.5 L425.2,879.0 L425.4,877.5 L425.6,876.1 L425.8,874.6 L426.0,873.1 L426.2,871.6 L426.4,870.1 L426.6,868.6 L426.8,867.2 L427.0,865.7 L427.2,864.2 L427.4,862.7 L427.7,861.2 L427.9,859.8 L428.1,858.3 L428.3,856.8 L428.6,855.3 L428.8,853.8 L429.1,852.4 L429.4,850.9 L429.6,849.4 L429.9,848.0 L430.2,846.5 L430.5,845.0 L430.9,843.6 L431.2,842.1 L431.6,840.7 L431.9,839.2 L432.3,837.8 L432.7,836.3 L433.1,834.9 L433.5,833.4 L433.9,832.0 L434.3,830.5 L434.7,829.1 L435.1,827.7 L435.6,826.2 L436.0,824.8 L436.4,823.4 L436.9,821.9 L437.3,820.5 L437.8,819.1 L438.2,817.7 L438.7,816.2 L439.1,814.8 L439.6,813.4 L440.0,812.0 L440.5,810.5 L441.0,809.1 L441.4,807.7 L441.9,806.3 L442.4,804.9 L442.9,803.4 L443.4,802.0 L443.9,800.6 L444.4,799.2 L444.9,797.8 L445.4,796.4 L446.0,795.0 L446.6,793.6 L447.1,792.2 L447.7,790.9 L448.3,789.5 L448.9,788.1 L449.5,786.8 L450.2,785.4 L450.8,784.1 L451.5,782.7 L452.1,781.4 L452.8,780.0 L453.5,778.7 L454.2,777.4 L455.0,776.1 L455.7,774.8 L456.4,773.5 L457.2,772.2 L457.9,770.9 L458.7,769.6 L459.5,768.4 L460.3,767.1 L461.1,765.8 L461.9,764.6 L462.7,763.3 L463.5,762.0 L464.4,760.8 L465.2,759.5 L466.0,758.3 L466.9,757.1 L467.7,755.8 L468.6,754.6 L469.4,753.4 L470.3,752.2 L471.1,750.9 L472.0,749.7 L472.9,748.5 L473.8,747.3 L474.6,746.1 L475.5,744.9 L476.4,743.7 L477.3,742.5 L478.2,741.3 L479.1,740.1 L480.0,738.9 L480.9,737.7 L481.8,736.5 L482.7,735.3 L483.6,734.1 L484.5,732.9 L485.5,731.7 L486.4,730.6 L487.3,729.4 L488.2,728.2 L489.1,727.0 L490.0,725.8 L490.9,724.6 L491.9,723.4 L492.8,722.3 L493.7,721.1 L494.6,719.9 L495.5,718.7 L496.5,717.6 L497.4,716.4 L498.3,715.2 L499.2,714.0 L500.2,712.8 L501.1,711.7 L502.0,710.5 L502.9,709.3 L503.9,708.1 L504.8,707.0 L505.7,705.8 L506.6,704.6 L507.6,703.4 L508.5,702.3 L509.4,701.1 L510.3,699.9 L511.3,698.7 L512.2,697.6 L513.1,696.4 L514.1,695.2 L515.0,694.1 L516.0,692.9 L516.9,691.7 L517.8,690.6 L518.8,689.4 L519.7,688.3 L520.7,687.1 L521.7,686.0 L522.6,684.8 L523.6,683.7 L524.6,682.5 L525.5,681.4 L526.5,680.3 L527.5,679.1 L528.5,678.0 L529.4,676.9 L530.4,675.7 L531.4,674.6 L532.4,673.5 L533.4,672.4 L534.4,671.3 L535.4,670.2 L536.4,669.1 L537.4,668.0 L538.5,666.9 L539.5,665.8 L540.5,664.7 L541.5,663.6 L542.6,662.5 L543.6,661.4 L544.7,660.4 L545.7,659.3 L546.8,658.3 L547.9,657.2 L548.9,656.2 L550.0,655.2 L551.1,654.1 L552.2,653.1 L553.4,652.1 L554.5,651.1 L555.6,650.2 L556.7,649.2 L557.9,648.2 L559.0,647.3 L560.2,646.3 L561.4,645.4 L562.5,644.5 L563.7,643.5 L564.9,642.6 L566.1,641.7 L567.3,640.8 L568.5,639.9 L569.7,639.0 L570.9,638.1 L572.1,637.3 L573.3,636.4 L574.5,635.5 L575.8,634.7 L577.0,633.8 L578.2,632.9 L579.4,632.1 L580.7,631.2 L581.9,630.4 L583.2,629.6 L584.4,628.7 L585.6,627.9 L586.9,627.1 L588.1,626.2 L589.4,625.4 L590.6,624.6 L591.9,623.8 L593.1,622.9 L594.4,622.1 L595.6,621.3 L596.9,620.5 L598.2,619.7 L599.4,618.9 L600.7,618.0 L601.9,617.2 L603.2,616.4 L604.4,615.6 L605.7,614.8 L606.9,613.9 L608.2,613.1 L609.4,612.3 L610.7,611.4 L611.9,610.6 L613.1,609.8 L614.4,608.9 L615.6,608.1 L616.8,607.2 L618.1,606.4 L619.3,605.5 L620.5,604.7 L621.8,603.8 L623.0,603.0 L624.2,602.1 L625.4,601.2 L626.6,600.3 L627.8,599.4 L629.0,598.5 L630.2,597.6 L631.4,596.7 L632.6,595.8 L633.8,594.9 L634.9,594.0 L636.1,593.0 L637.3,592.1 L638.4,591.1 L639.6,590.2 L640.7,589.2 L641.9,588.3 L643.0,587.3 L644.1,586.3 L645.3,585.3 L646.4,584.3 L647.5,583.3 L648.6,582.3 L649.7,581.3 L650.8,580.3 L651.9,579.3 L653.0,578.2 L654.0,577.2 L655.1,576.1 L656.1,575.0 L657.2,573.9 L658.2,572.8 L659.2,571.7 L660.2,570.6 L661.1,569.5 L662.1,568.3 L663.0,567.1 L663.9,566.0 L664.8,564.7 L665.7,563.5 L666.5,562.3 L667.3,561.0 L668.0,559.7 L668.7,558.4 L669.4,557.0 L670.0,555.7 L670.6,554.3 L671.1,552.9 L671.6,551.5 L672.1,550.1 L672.5,548.6 L672.9,547.2 L673.2,545.7 L673.6,544.3" fill="none" stroke="#d62728" stroke-width="3.0" stroke-linejoin="round" stroke-linecap="round"/>
<path d="M440.0,768.9 L624.4,594.1" fill="none" stroke="#7f7f7f" stroke-width="4.2" stroke-dasharray="2.9 7.04"/>
<path d="M539.5,768.9 L641.7,594.1" fill="none" stroke="#7f7f7f" stroke-width="4.2" stroke-dasharray="2.9 7.04"/>
<path d="M616.1,768.9 L662.4,594.1" fill="none" stroke="#7f7f7f" stroke-width="4.2" stroke-dasharray="2.9 7.04"/>
<path d="M459.5,768.4 L460.3,767.1 L461.1,765.8 L461.9,764.6 L462.7,763.3 L463.5,762.0 L464.4,760.8 L465.2,759.5 L466.0,758.3 L466.9,757.1 L467.7,755.8 L468.6,754.6 L469.4,753.4 L470.3,752.2 L471.1,750.9 L472.0,749.7 L472.9,748.5 L473.8,747.3 L474.6,746.1 L475.5,744.9 L476.4,743.7 L477.3,742.5 L478.2,741.3 L479.1,740.1 L480.0,738.9 L480.9,737.7 L481.8,736.5 L482.7,735.3 L483.6,734.1 L484.5,732.9 L485.5,731.7 L486.4,730.6 L487.3,729.4 L488.2,728.2 L489.1,727.0 L490.0,725.8 L490.9,724.6 L491.9,723.4 L492.8,722.3 L493.7,721.1 L494.6,719.9 L495.5,718.7 L496.5,717.6 L497.4,716.4 L498.3,715.2 L499.2,714.0 L500.2,712.8 L501.1,711.7 L502.0,710.5 L502.9,709.3 L503.9,708.1 L504.8,707.0 L505.7,705.8 L506.6,704.6 L507.6,703.4 L508.5,702.3 L509.4,701.1 L510.3,699.9 L511.3,698.7 L512.2,697.6 L513.1,696.4 L514.1,695.2 L515.0,694.1 L516.0,692.9 L516.9,691.7 L517.8,690.6 L518.8,689.4 L519.7,688.3 L520.7,687.1 L521.7,686.0 L522.6,684.8 L523.6,683.7 L524.6,682.5 L525.5,681.4 L526.5,680.3 L527.5,679.1 L528.5,678.0 L529.4,676.9 L530.4,675.7 L531.4,674.6 L532.4,673.5 L533.4,672.4 L534.4,671.3 L535.4,670.2 L536.4,669.1 L537.4,668.0 L538.5,666.9 L539.5,665.8 L540.5,664.7 L541.5,663.6 L542.6,662.5 L543.6,661.4 L544.7,660.4 L545.7,659.3 L546.8,658.3 L547.9,657.2 L548.9,656.2 L550.0,655.2 L551.1,654.1 L552.2,653.1 L553.4,652.1 L554.5,651.1 L555.6,650.2 L556.7,649.2 L557.9,648.2 L559.0,647.3 L560.2,646.3 L561.4,645.4 L562.5,644.5 L563.7,643.5 L564.9,642.6 L566.1,641.7 L567.3,640.8 L568.5,639.9 L569.7,639.0 L570.9,638.1 L572.1,637.3 L573.3,636.4 L574.5,635.5 L575.8,634.7 L577.0,633.8 L578.2,632.9 L579.4,632.1 L580.7,631.2 L581.9,630.4 L583.2,629.6 L584.4,628.7 L585.6,627.9 L586.9,627.1 L588.1,626.2 L589.4,625.4 L590.6,624.6 L591.9,623.8 L593.1,622.9 L594.4,622.1 L595.6,621.3 L596.9,620.5 L598.2,619.7 L599.4,618.9 L600.7,618.0 L601.9,617.2 L603.2,616.4 L604.4,615.6 L605.7,614.8 L606.9,613.9 L608.2,613.1 L609.4,612.3 L610.7,611.4 L611.9,610.6 L613.1,609.8 L614.4,608.9 L615.6,608.1 L616.8,607.2 L618.1,606.4 L619.3,605.5 L620.5,604.7 L621.8,603.8 L623.0,603.0 L624.2,602.1 L625.4,601.2 L626.6,600.3 L627.8,599.4 L629.0,598.5 L630.2,597.6 L631.4,596.7 L632.6,595.8 L633.8,594.9" fill="none" stroke="#7f7f7f" stroke-width="4.2" stroke-dasharray="14.3 14.1" stroke-linejoin="round"/>
<path d="M553.2,767.5 L553.7,766.1 L554.1,764.7 L554.5,763.3 L555.0,761.8 L555.5,760.4 L556.0,759.0 L556.5,757.6 L557.0,756.2 L557.5,754.8 L558.0,753.3 L558.5,751.9 L559.0,750.5 L559.6,749.1 L560.1,747.7 L560.6,746.3 L561.2,744.9 L561.7,743.5 L562.2,742.1 L562.8,740.7 L563.3,739.3 L563.8,737.9 L564.4,736.5 L564.9,735.1 L565.5,733.7 L566.0,732.3 L566.5,730.9 L567.1,729.5 L567.6,728.1 L568.1,726.7 L568.7,725.3 L569.2,723.9 L569.8,722.5 L570.3,721.1 L570.9,719.8 L571.4,718.4 L572.0,717.0 L572.6,715.6 L573.1,714.2 L573.7,712.8 L574.3,711.4 L574.8,710.0 L575.4,708.7 L576.0,707.3 L576.6,705.9 L577.2,704.5 L577.7,703.1 L578.3,701.8 L578.9,700.4 L579.5,699.0 L580.1,697.6 L580.7,696.2 L581.3,694.9 L581.8,693.5 L582.4,692.1 L583.0,690.7 L583.6,689.3 L584.2,687.9 L584.7,686.6 L585.3,685.2 L585.9,683.8 L586.5,682.4 L587.1,681.0 L587.6,679.6 L588.2,678.3 L588.8,676.9 L589.4,675.5 L590.0,674.1 L590.6,672.8 L591.2,671.4 L591.8,670.0 L592.5,668.7 L593.1,667.3 L593.8,666.0 L594.4,664.6 L595.1,663.3 L595.7,661.9 L596.4,660.6 L597.1,659.3 L597.8,658.0 L598.6,656.6 L599.3,655.3 L600.0,654.0 L600.8,652.7 L601.6,651.5 L602.4,650.2 L603.2,648.9 L604.0,647.6 L604.8,646.4 L605.6,645.2 L606.5,643.9 L607.3,642.7 L608.2,641.5 L609.1,640.3 L610.0,639.0 L610.9,637.8 L611.8,636.7 L612.7,635.5 L613.6,634.3 L614.6,633.1 L615.5,632.0 L616.5,630.8 L617.4,629.6 L618.4,628.5 L619.3,627.4 L620.3,626.2 L621.3,625.1 L622.3,623.9 L623.3,622.8 L624.2,621.7 L625.2,620.6 L626.2,619.4 L627.2,618.3 L628.2,617.2 L629.2,616.0 L630.2,614.9 L631.2,613.8 L632.2,612.7 L633.1,611.5 L634.1,610.4 L635.1,609.3 L636.1,608.2 L637.1,607.0 L638.1,605.9 L639.0,604.8 L640.0,603.6 L641.0,602.5 L641.9,601.3 L642.9,600.2 L643.9,599.0 L644.8,597.9 L645.7,596.7 L646.7,595.5 L647.6,594.3" fill="none" stroke="#7f7f7f" stroke-width="4.2" stroke-dasharray="14.3 14.1" stroke-linejoin="round"/>
<path d="M622.5,768.0 L622.7,766.6 L622.8,765.1 L623.0,763.6 L623.2,762.1 L623.3,760.6 L623.5,759.1 L623.7,757.6 L623.9,756.1 L624.1,754.6 L624.3,753.1 L624.5,751.7 L624.7,750.2 L624.9,748.7 L625.1,747.2 L625.4,745.7 L625.6,744.2 L625.8,742.8 L626.1,741.3 L626.3,739.8 L626.5,738.3 L626.8,736.8 L627.0,735.4 L627.3,733.9 L627.5,732.4 L627.8,730.9 L628.0,729.4 L628.3,728.0 L628.6,726.5 L628.8,725.0 L629.1,723.5 L629.4,722.1 L629.6,720.6 L629.9,719.1 L630.2,717.6 L630.5,716.2 L630.7,714.7 L631.0,713.2 L631.3,711.7 L631.6,710.3 L631.9,708.8 L632.2,707.3 L632.5,705.8 L632.8,704.4 L633.1,702.9 L633.4,701.4 L633.6,700.0 L633.9,698.5 L634.2,697.0 L634.5,695.6 L634.8,694.1 L635.1,692.6 L635.5,691.1 L635.8,689.7 L636.1,688.2 L636.4,686.7 L636.7,685.3 L637.0,683.8 L637.3,682.3 L637.6,680.9 L637.9,679.4 L638.2,677.9 L638.5,676.5 L638.8,675.0 L639.1,673.5 L639.4,672.1 L639.8,670.6 L640.1,669.1 L640.4,667.7 L640.7,666.2 L641.1,664.7 L641.4,663.3 L641.7,661.8 L642.1,660.3 L642.4,658.9 L642.8,657.4 L643.2,656.0 L643.5,654.5 L643.9,653.1 L644.3,651.6 L644.7,650.2 L645.1,648.7 L645.5,647.3 L646.0,645.9 L646.4,644.4 L646.8,643.0 L647.3,641.5 L647.7,640.1 L648.2,638.7 L648.6,637.3 L649.1,635.8 L649.6,634.4 L650.0,633.0 L650.5,631.6 L651.0,630.1 L651.5,628.7 L652.0,627.3 L652.5,625.9 L653.0,624.5 L653.5,623.1 L654.0,621.7 L654.5,620.3 L655.1,618.8 L655.6,617.4 L656.1,616.0 L656.6,614.6 L657.2,613.2 L657.7,611.8 L658.2,610.4 L658.7,609.0 L659.3,607.6 L659.8,606.2 L660.3,604.8 L660.8,603.4 L661.3,602.0 L661.8,600.5 L662.3,599.1 L662.8,597.7 L663.2,596.3 L663.7,594.8" fill="none" stroke="#7f7f7f" stroke-width="4.2" stroke-dasharray="14.3 14.1" stroke-linejoin="round"/>
</g>
<text transform="translate(72.60,534.90) scale(0.965,1)" font-size="31.3">10<tspan dx="-0.9" dy="-13.2" font-size="19.8">7</tspan></text>
<text transform="translate(72.60,721.30) scale(0.965,1)" font-size="31.3">10<tspan dx="-0.9" dy="-13.2" font-size="19.8">6</tspan></text>
<text transform="translate(72.50,904.90) scale(0.965,1)" font-size="31.3">10<tspan dx="-0.9" dy="-13.2" font-size="19.8">5</tspan></text>
<text transform="translate(100.60,942.30) scale(0.965,1)" font-size="31.3">10<tspan dx="-0.9" dy="-13.2" font-size="19.8">9</tspan></text>
<text transform="translate(550.00,942.30) scale(0.965,1)" font-size="31.3">10<tspan dx="-0.9" dy="-13.2" font-size="19.8">10</tspan></text>
<text transform="translate(382.90,974.20) scale(0.965,1)" font-size="31.3"><tspan class="i">n</tspan><tspan class="i" dy="7.3" font-size="19.8">c</tspan><tspan dy="-7.3"> (cm</tspan><tspan dy="-12.299999999999999" font-size="19.8">–</tspan><tspan dy="-0.9" font-size="19.8">3</tspan><tspan dy="13.2">)</tspan></text>
<text transform="translate(48.3,747.20) rotate(-90) scale(0.965,1)" font-size="31.3"><tspan class="i">T</tspan><tspan class="i" dy="7.3" font-size="19.8">c</tspan><tspan dy="-7.3"> (K)</tspan></text>
<text transform="translate(126.90,551.80) scale(0.965,1)" font-size="31.3">(b) Gravity Neglected</text>
<path d="M142.8,98.2H237.9" stroke="#d62728" stroke-width="3.0" fill="none"/>
<text transform="translate(253.80,104.20) scale(0.93,1)" font-size="25.4" style="fill:#d62728">Γ<tspan x="21.9">=</tspan><tspan x="44.1">1</tspan></text>
<path d="M142.8,123.4H237.9" stroke="#2ca02c" stroke-width="3.0" fill="none"/>
<text transform="translate(253.80,129.40) scale(0.93,1)" font-size="25.4" style="fill:#2ca02c">Γ<tspan x="21.9">=</tspan><tspan x="44.1">3</tspan></text>
<path d="M142.8,148.2H237.9" stroke="#1f77b4" stroke-width="3.0" fill="none"/>
<text transform="translate(253.80,154.20) scale(0.93,1)" font-size="25.4" style="fill:#1f77b4">Γ<tspan x="21.9">=</tspan><tspan x="44.1">10</tspan></text>
<path d="M142.8,177.9H237.9" stroke="#7f7f7f" stroke-width="4.2" stroke-dasharray="2.9 7.04" fill="none"/>
<path d="M142.8,202.9H237.9" stroke="#7f7f7f" stroke-width="4.2" stroke-dasharray="14.3 14.1" fill="none"/>
<text x="253.7" y="183.8" font-size="19.2" textLength="143.7" lengthAdjust="spacing" style="fill:#7f7f7f">Single Power<tspan dy="0.2">–</tspan><tspan dy="-0.2">law</tspan></text>
<text x="254.2" y="208.3" font-size="19.2" textLength="171.2" lengthAdjust="spacing" style="fill:#7f7f7f">Piecewise Power<tspan dy="0.2">–</tspan><tspan dy="-0.2">law</tspan></text>
</svg></body></html>
